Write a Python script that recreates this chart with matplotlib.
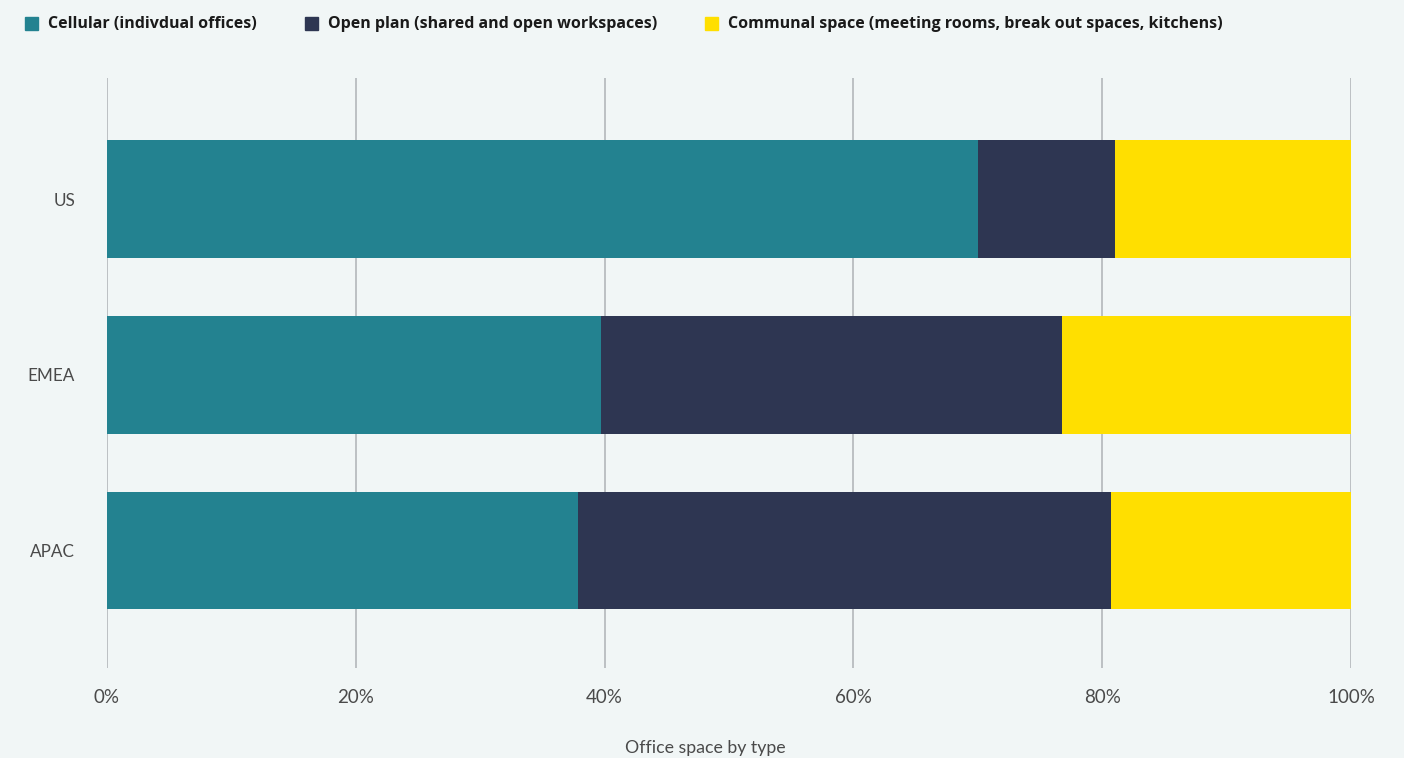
import matplotlib
matplotlib.use("Agg")
import matplotlib.pyplot as plt
from matplotlib.patches import Rectangle

regions = ["US", "EMEA", "APAC"]
cellular = [70.0, 39.7, 37.9]
open_plan = [11.0, 37.1, 42.8]
communal = [19.0, 23.2, 19.3]
series_names = ["Cellular (indivdual offices)",
                "Open plan (shared and open workspaces)",
                "Communal space (meeting rooms, break out spaces, kitchens)"]
colors = ["#238290", "#2e3652", "#ffdf00"]
xticks = [0, 20, 40, 60, 80, 100]
xticklabels = ["0%", "20%", "40%", "60%", "80%", "100%"]

plt.rcParams['font.family'] = ['Lato', 'DejaVu Sans']
bg = "#f1f6f6"
fig = plt.figure(figsize=(14.04, 7.58), dpi=100, facecolor=bg)
ax = fig.add_axes([107/1404, 1-668/758, (1351-107)/1404, (668-78)/758])
ax.set_facecolor(bg)

ypos = list(range(len(regions)))
left = [0]*len(regions)
for vals, c, name in zip([cellular, open_plan, communal], colors, series_names):
    ax.barh(ypos, vals, left=left, height=0.67, color=c, label=name, zorder=3)
    left = [l+v for l, v in zip(left, vals)]

ax.set_xlim(0, 100)
ax.set_ylim(2.67, -0.69)
ax.set_xticks(xticks)
ax.set_xticklabels(xticklabels, fontsize=13.5, color="#4a4a4a")
ax.set_yticks(ypos)
ax.set_yticklabels(regions, fontsize=12.3, color="#4a4a4a")
ax.tick_params(axis='x', length=0, pad=15)
ax.tick_params(axis='y', length=0, pad=23)
ax.grid(axis='x', color="#b8bcbf", linewidth=1.3, zorder=0)
for s in ax.spines.values():
    s.set_visible(False)
fig.text(705/1404, 1-748/758, "Office space by type", fontsize=12.8,
         color="#4a4a4a", ha='center', va='center')

# legend
xs = [25, 305, 705]
for x, c, name in zip(xs, colors, series_names):
    fig.patches.append(Rectangle((x/1404, 1-30/758), 13/1404, 13/758,
                                 transform=fig.transFigure, color=c))
    fig.text((x+23)/1404, 1-24/758, name, fontsize=11.5, fontweight='bold',
             family=['Open Sans', 'DejaVu Sans'],
             color="#1a1a1a", va='center', ha='left')

fig.savefig("out.png", dpi=100, facecolor=bg)
